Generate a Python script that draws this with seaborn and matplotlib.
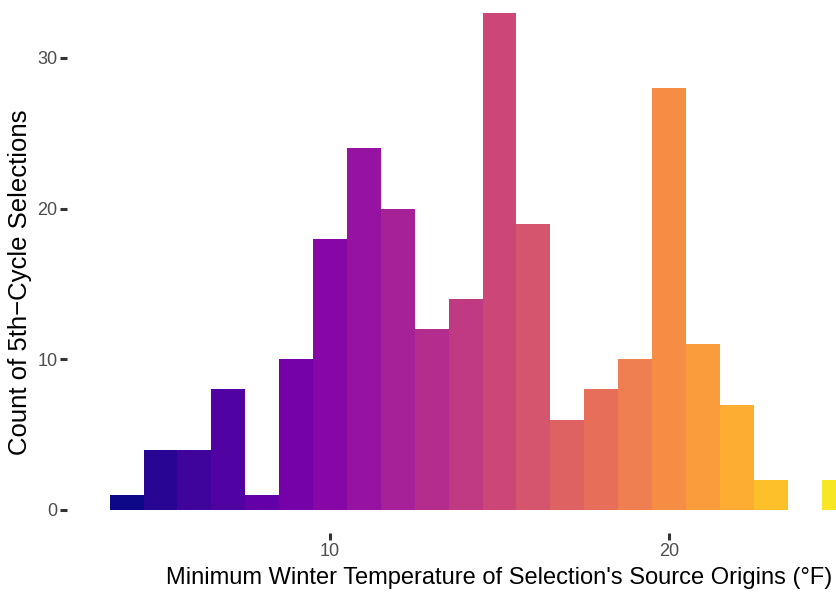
import numpy as np
import pandas as pd
import matplotlib
matplotlib.use("Agg")
import matplotlib.pyplot as plt
import seaborn as sns

temps = [4, 5, 6, 7, 8, 9, 10, 11, 12, 13, 14, 15, 16, 17, 18, 19, 20, 21, 22, 23, 24, 25]
counts = [1, 4, 4, 8, 1, 10, 18, 24, 20, 12, 14, 33, 19, 6, 8, 10, 28, 11, 7, 2, 0, 2]
x_ticks = [10, 20]
y_ticks = [0, 10, 20, 30]
x_title = "Minimum Winter Temperature of Selection's Source Origins (°F)"
y_title = "Count of 5th\u2212Cycle Selections"

df = pd.DataFrame({"temp": temps, "count": counts})

sns.set_style("white")
plt.rcParams['font.family'] = ['Liberation Sans', 'DejaVu Sans']

W, H = 837, 593
fig = plt.figure(figsize=(W / 100, H / 100), dpi=100)
xlim = (2.25, 27.0)
ylim = (-1.55, 34.65)
px_per_x = 33.9
px_per_y = 15.07
left_px = 330 - (10 - xlim[0]) * px_per_x
bottom_px = 510 + (0 - ylim[0]) * px_per_y  # from top
width_px = (xlim[1] - xlim[0]) * px_per_x
height_px = (ylim[1] - ylim[0]) * px_per_y
ax = fig.add_axes([left_px / W, (H - bottom_px) / H, width_px / W, height_px / H])

sns.barplot(data=df, x="temp", y="count", hue="temp", palette="plasma",
            hue_norm=(4, 26), native_scale=True, width=1.0,
            dodge=False, legend=False, linewidth=0, saturation=1, ax=ax, errorbar=None)
for p in ax.patches:
    p.set_edgecolor("none")

ax.set_xlim(*xlim)
ax.set_ylim(*ylim)
ax.set_xticks(x_ticks)
ax.set_yticks(y_ticks)
ax.set_xticklabels([str(t) for t in x_ticks])
ax.set_yticklabels([str(t) for t in y_ticks])
for s in ax.spines.values():
    s.set_visible(False)
ax.tick_params(axis="both", which="major", length=5, width=2.2, color="#333333",
               labelcolor="#4d4d4d", labelsize=13, pad=2, direction="out")
ax.tick_params(axis="x", bottom=True)
ax.tick_params(axis="y", left=True)
ax.grid(False)
ax.set_xlabel(x_title, fontsize=17, color="black")
ax.set_ylabel(y_title, fontsize=18.5, color="black")
ax.xaxis.set_label_coords((499 - left_px) / width_px, -(578 - bottom_px) / height_px)
ax.yaxis.set_label_coords(-(left_px - 20) / width_px, (bottom_px - 282) / height_px)
ax.xaxis.label.set_va("center")
ax.yaxis.label.set_va("center")
ax.patch.set_alpha(0)

fig.savefig("out.png", dpi=100)
